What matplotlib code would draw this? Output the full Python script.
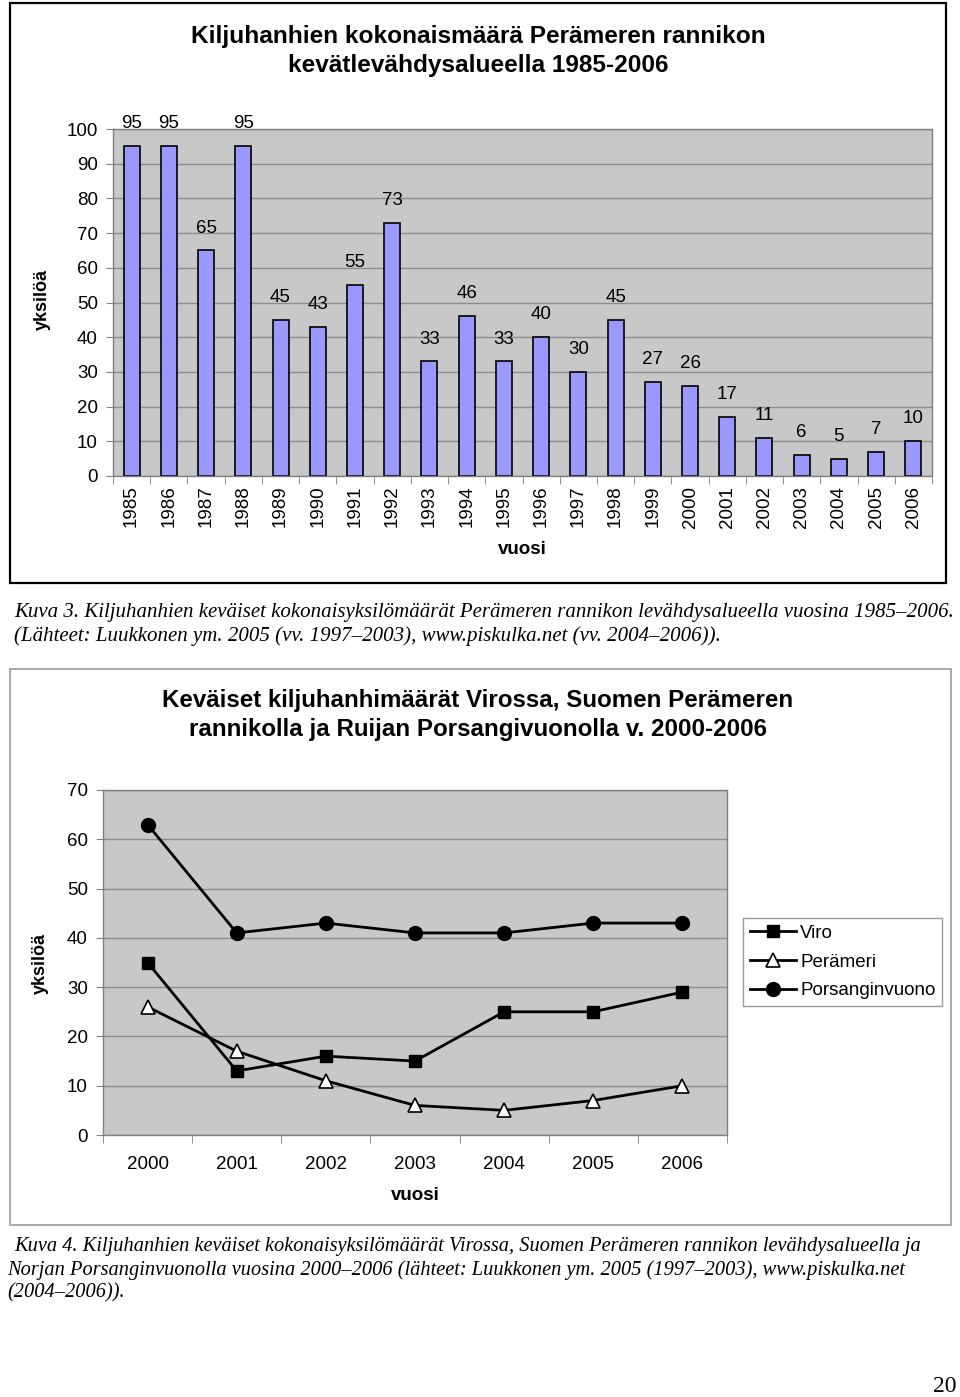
import matplotlib
matplotlib.use('Agg')
import matplotlib.pyplot as plt
from matplotlib.patches import Rectangle
import numpy as np

# --- data -------------------------------------------------------------
years_total = ['1985', '1986', '1987', '1988', '1989', '1990', '1991', '1992',
               '1993', '1994', '1995', '1996', '1997', '1998', '1999', '2000',
               '2001', '2002', '2003', '2004', '2005', '2006']
total_counts = [95, 95, 65, 95, 45, 43, 55, 73, 33, 46, 33, 40, 30, 45,
                27, 26, 17, 11, 6, 5, 7, 10]

years_cmp = ['2000', '2001', '2002', '2003', '2004', '2005', '2006']
viro = [35, 13, 16, 15, 25, 25, 29]
peramer = [26, 17, 11, 6, 5, 7, 10]
porsanger = [63, 41, 43, 41, 41, 43, 43]

title1 = 'Kiljuhanhien kokonaismäärä Perämeren rannikon\nkevätlevähdysalueella 1985-2006'
title2 = 'Keväiset kiljuhanhimäärät Virossa, Suomen Perämeren\nrannikolla ja Ruijan Porsangivuonolla v. 2000-2006'
caption1 = ['Kuva 3. Kiljuhanhien keväiset kokonaisyksilömäärät Perämeren rannikon levähdysalueella vuosina 1985–2006.',
            '(Lähteet: Luukkonen ym. 2005 (vv. 1997–2003), www.piskulka.net (vv. 2004–2006)).']
caption2 = ['Kuva 4. Kiljuhanhien keväiset kokonaisyksilömäärät Virossa, Suomen Perämeren rannikon levähdysalueella ja',
            'Norjan Porsanginvuonolla vuosina 2000–2006 (lähteet: Luukkonen ym. 2005 (1997–2003), www.piskulka.net',
            '(2004–2006)).']

# --- style --------------------------------------------------------------
plt.rcParams['font.family'] = ['Liberation Sans', 'DejaVu Sans']
W, H = 960, 1397
BG = '#c8c8c8'
GRID = '#8c8c8c'
EDGE = '#808080'
SERIF = ['Liberation Serif', 'DejaVu Serif']

fig = plt.figure(figsize=(W / 100, H / 100), dpi=100)


def px_axes(x0, y0, x1, y1):
    # pixel box (top-left origin) -> figure axes
    return fig.add_axes([x0 / W, 1 - y1 / H, (x1 - x0) / W, (y1 - y0) / H])


def fx(x):
    return x / W


def fy(y):
    return 1 - y / H


def style_axes(ax):
    ax.set_facecolor(BG)
    for s in ax.spines.values():
        s.set_color(EDGE)
        s.set_linewidth(1)
    ax.yaxis.grid(True, color=GRID, linewidth=1)
    ax.set_axisbelow(True)
    ax.tick_params(axis='y', length=5, color=EDGE, labelsize=13.5, pad=6)
    ax.tick_params(axis='x', which='major', length=0, labelsize=13.5)
    ax.tick_params(axis='x', which='minor', length=6, color=EDGE)


# frames
fig.patches.append(Rectangle((fx(10), fy(583)), fx(946) - fx(10), fy(3) - fy(583),
                             transform=fig.transFigure, fill=False,
                             edgecolor='black', linewidth=1.6))
fig.patches.append(Rectangle((fx(10), fy(1225)), fx(951) - fx(10), fy(669) - fy(1225),
                             transform=fig.transFigure, fill=False,
                             edgecolor='#9a9a9a', linewidth=1.2))

# --- chart 1: bars --------------------------------------------------------
ax1 = px_axes(113, 129, 932, 476)
style_axes(ax1)
x1 = np.arange(len(years_total))
ax1.bar(x1, total_counts, width=0.43, color='#9999ff', edgecolor='black', linewidth=1.2)
for xi, v in zip(x1, total_counts):
    ax1.annotate(str(v), (xi, v), xytext=(0, 10), textcoords='offset points',
                 ha='center', va='bottom', fontsize=13.5, annotation_clip=False)
ax1.set_xlim(-0.5, len(years_total) - 0.5)
ax1.set_ylim(0, 100)
ax1.set_yticks(range(0, 101, 10))
ax1.set_xticks(x1)
ax1.set_xticklabels(years_total, rotation=90, va='top')
ax1.set_xticks(np.arange(-0.5, len(years_total), 1), minor=True)
ax1.tick_params(axis='x', which='major', pad=7)

fig.text(fx(478), fy(51), title1, ha='center', va='center', fontsize=17.6,
         fontweight='bold', linespacing=1.38)
fig.text(fx(42), fy(300), 'yksilöä', rotation=90, ha='center', va='center',
         fontsize=13, fontweight='bold')
fig.text(fx(522), fy(550), 'vuosi', ha='center', va='center', fontsize=13.5,
         fontweight='bold')

# --- chart 2: lines -------------------------------------------------------
ax2 = px_axes(103, 790, 727, 1135)
style_axes(ax2)
x2 = np.arange(len(years_cmp))
lw = 2.0
ax2.plot(x2, viro, color='black', linewidth=lw, marker='s', markersize=8,
         markerfacecolor='black', markeredgecolor='black', label='Viro', clip_on=False)
ax2.plot(x2, peramer, color='black', linewidth=lw, marker='^', markersize=10,
         markerfacecolor='white', markeredgecolor='black', markeredgewidth=1.2,
         label='Perämeri', clip_on=False)
ax2.plot(x2, porsanger, color='black', linewidth=lw, marker='o', markersize=10,
         markerfacecolor='black', markeredgecolor='black', label='Porsanginvuono',
         clip_on=False)
ax2.set_xlim(-0.5, len(years_cmp) - 0.5)
ax2.set_ylim(0, 70)
ax2.set_yticks(range(0, 71, 10))
ax2.set_xticks(x2)
ax2.set_xticklabels(years_cmp)
ax2.set_xticks(np.arange(-0.5, len(years_cmp), 1), minor=True)
ax2.tick_params(axis='x', which='major', pad=15)

leg = fig.legend(loc='center left', bbox_to_anchor=(fx(743), fy(962)),
                 fontsize=13.5, frameon=True, fancybox=False, framealpha=1,
                 edgecolor='#9a9a9a', handlelength=2.5, handletextpad=0.2,
                 borderpad=0.35, labelspacing=0.62, borderaxespad=0)
leg.get_frame().set_linewidth(1)

fig.text(fx(478), fy(715), title2, ha='center', va='center', fontsize=17.4,
         fontweight='bold', linespacing=1.32)
fig.text(fx(40), fy(963), 'yksilöä', rotation=90, ha='center', va='center',
         fontsize=13, fontweight='bold')
fig.text(fx(415), fy(1195), 'vuosi', ha='center', va='center', fontsize=13.5,
         fontweight='bold')

# --- captions ------------------------------------------------------------
for i, line in enumerate(caption1):
    fig.text(fx(14), fy(612 + 24 * i), line, ha='left', va='center',
             fontsize=15, style='italic', family=SERIF)
cap2_x = [14, 7, 7]
for i, line in enumerate(caption2):
    fig.text(fx(cap2_x[i]), fy(1247 + 23 * i), line, ha='left', va='center',
             fontsize=14.7, style='italic', family=SERIF)
fig.text(fx(956), fy(1386), '20', ha='right', va='center', fontsize=17, family=SERIF)

fig.savefig('out.png', dpi=100)
